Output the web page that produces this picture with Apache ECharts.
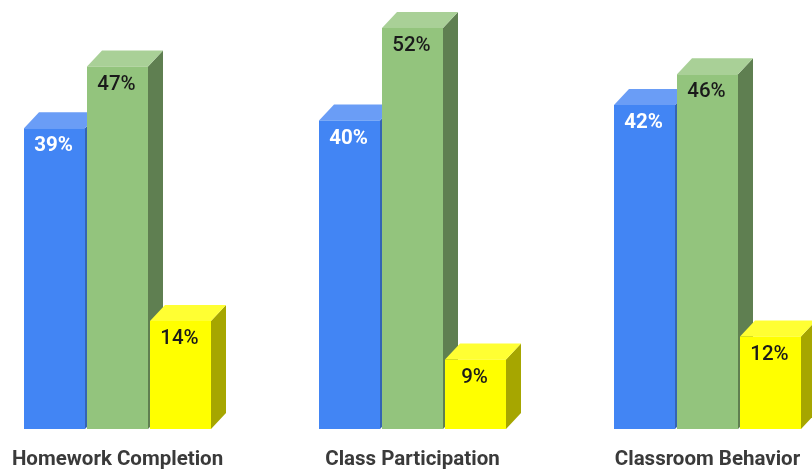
<!DOCTYPE html>
<html><head><meta charset="utf-8">
<style>html,body{margin:0;padding:0;background:#fff}#c{width:812px;height:470px}</style>
<script src="https://cdn.jsdelivr.net/npm/echarts@6/dist/echarts.min.js"></script>
</head><body><div id="c"></div>
<script>
const categories = ['Homework Completion', 'Class Participation', 'Classroom Behavior'];
const blueValues = [39, 40, 42];
const greenValues = [47, 52, 46];
const yellowValues = [14, 9, 12];

const barW = 61, depthX = 15, depthY = 16;
function bar3d(values, offset, front, side, top, labelColor, labelWeight) {
  return {
    type: 'custom',
    coordinateSystem: 'cartesian2d',
    data: values.map((v, i) => [i, v]),
    encode: { x: 0, y: 1 },
    clip: false,
    renderItem(params, api) {
      const p = api.coord([api.value(0), api.value(1)]);
      const b = api.coord([api.value(0), 0]);
      const x0 = p[0] + offset - barW / 2, x1 = x0 + barW, yt = p[1], yb = b[1];
      return {
        type: 'group',
        children: [
          { type: 'polygon', shape: { points: [[x1, yt], [x1 + depthX, yt - depthY], [x1 + depthX, yb - depthY], [x1, yb]] }, style: { fill: side } },
          { type: 'polygon', shape: { points: [[x0, yt], [x0 + depthX, yt - depthY], [x1 + depthX, yt - depthY], [x1, yt]] }, style: { fill: top } },
          { type: 'rect', shape: { x: x0, y: yt, width: barW, height: yb - yt }, style: { fill: front } },
          { type: 'text', style: { text: api.value(1) + '%', x: x0 + barW / 2 - 1, y: yt + 18, align: 'center', verticalAlign: 'middle', fill: labelColor, font: labelWeight + ' 20.5px Roboto' } }
        ]
      };
    }
  };
}

echarts.init(document.getElementById('c'), null, { renderer: 'canvas' }).setOption({
  animation: false,
  backgroundColor: '#fff',
  grid: { left: 117.5, width: 590, top: 28, bottom: 41 },
  xAxis: {
    type: 'category', data: categories, boundaryGap: false,
    axisLine: { show: false }, axisTick: { show: false },
    axisLabel: { interval: 0, margin: 20, hideOverlap: false, alignMinLabel: 'center', alignMaxLabel: 'center', fontFamily: 'Roboto', fontWeight: 700, fontSize: 20.5, color: '#3a3a3a' }
  },
  yAxis: { type: 'value', min: 0, max: 52, show: false, splitLine: { show: false } },
  series: [
    bar3d(blueValues, -63, '#4285f4', '#3464b4', '#6a9df6', '#ffffff', 700),
    bar3d(greenValues, 0, '#93c47d', '#5f7f51', '#a9d097', '#1a1a1a', 500),
    bar3d(yellowValues, 63, '#ffff00', '#a6a600', '#ffff33', '#1a1a1a', 500)
  ]
});
</script></body></html>
